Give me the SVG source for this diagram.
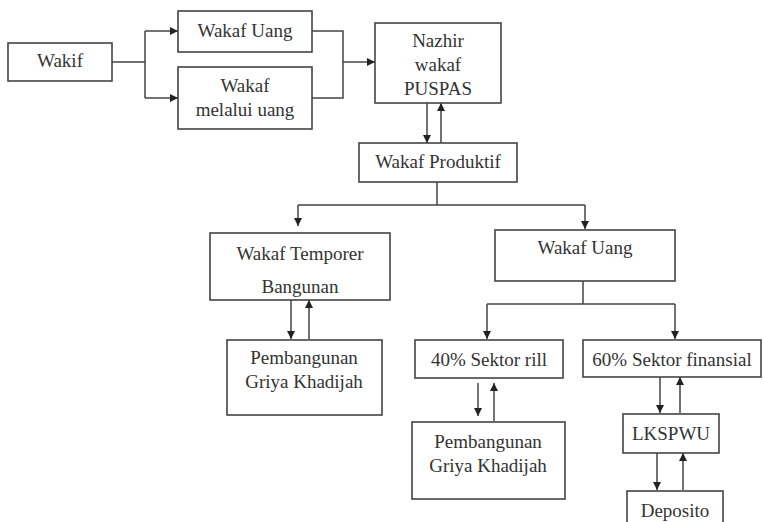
<svg xmlns="http://www.w3.org/2000/svg" width="763" height="522" viewBox="0 0 763 522">
<defs>
<marker id="ah" viewBox="0 0 10 10" refX="10" refY="5" markerWidth="8" markerHeight="8" markerUnits="userSpaceOnUse" orient="auto">
<path d="M0,0 L10,5 L0,10 z" fill="#222"/>
</marker>
<style>
.box{fill:#fff;stroke:#444;stroke-width:1.6}
.t{font-family:Liberation Serif,Tinos,DejaVu Serif,serif;font-size:19px;fill:#333;text-anchor:middle}
.c{fill:none;stroke:#444;stroke-width:1.5}
.a{fill:none;stroke:#444;stroke-width:1.5;marker-end:url(#ah)}
</style>
</defs>
<rect width="763" height="522" fill="#fff"/>
<g id="connectors">
<path class="c" d="M112,62 H145 M145,31 V98"/>
<path class="a" d="M145,31 H178"/>
<path class="a" d="M145,98 H178"/>
<path class="c" d="M312,31 H343 V98 H312"/>
<path class="a" d="M343,62 H375"/>
<path class="a" d="M427,103 V143"/>
<path class="a" d="M441,143 V103"/>
<path class="c" d="M437,182 V205 M298,205 H585"/>
<path class="a" d="M298,205 V226"/>
<path class="a" d="M585,205 V229"/>
<path class="a" d="M291,300 V339"/>
<path class="a" d="M309,339 V300"/>
<path class="c" d="M583,281 V304 M487,304 H675"/>
<path class="a" d="M487,304 V339"/>
<path class="a" d="M675,304 V339"/>
<path class="a" d="M478,383 V416"/>
<path class="a" d="M494,421 V383"/>
<path class="a" d="M660,377 V413"/>
<path class="a" d="M680,413 V377"/>
<path class="a" d="M657,453 V490"/>
<path class="a" d="M683,490 V453"/>
</g>
<g id="wakif"><rect class="box" x="8" y="43" width="104" height="38"/><text class="t" x="60" y="67">Wakif</text></g>
<g id="wakaf-uang"><rect class="box" x="178" y="11" width="134" height="41"/><text class="t" x="245" y="37">Wakaf Uang</text></g>
<g id="wakaf-melalui-uang"><rect class="box" x="178" y="67" width="134" height="62"/><text class="t" x="245" y="92">Wakaf</text><text class="t" x="245" y="116">melalui uang</text></g>
<g id="nazhir"><rect class="box" x="375" y="23" width="126" height="80"/><text class="t" x="438" y="47">Nazhir</text><text class="t" x="438" y="71">wakaf</text><text class="t" x="438" y="95">PUSPAS</text></g>
<g id="wakaf-produktif"><rect class="box" x="359" y="143" width="158" height="39"/><text class="t" x="438" y="168">Wakaf Produktif</text></g>
<g id="wakaf-temporer"><rect class="box" x="210" y="233" width="180" height="67"/><text class="t" x="300" y="260">Wakaf Temporer</text><text class="t" x="300" y="293">Bangunan</text></g>
<g id="wakaf-uang-2"><rect class="box" x="495" y="230" width="180" height="51"/><text class="t" x="585" y="254">Wakaf Uang</text></g>
<g id="pembangunan-1"><rect class="box" x="227" y="340" width="155" height="75"/><text class="t" x="304" y="364">Pembangunan</text><text class="t" x="304" y="388">Griya Khadijah</text></g>
<g id="sektor-rill"><rect class="box" x="415" y="340" width="148" height="38"/><text class="t" x="489" y="366">40% Sektor rill</text></g>
<g id="sektor-finansial"><rect class="box" x="583" y="340" width="178" height="37"/><text class="t" x="672" y="366">60% Sektor finansial</text></g>
<g id="pembangunan-2"><rect class="box" x="412" y="422" width="153" height="77"/><text class="t" x="488" y="448">Pembangunan</text><text class="t" x="488" y="472">Griya Khadijah</text></g>
<g id="lkspwu"><rect class="box" x="623" y="414" width="96" height="39"/><text class="t" x="671" y="440">LKSPWU</text></g>
<g id="deposito"><rect class="box" x="627" y="491" width="96" height="40"/><text class="t" x="675" y="517">Deposito</text></g>
</svg>
